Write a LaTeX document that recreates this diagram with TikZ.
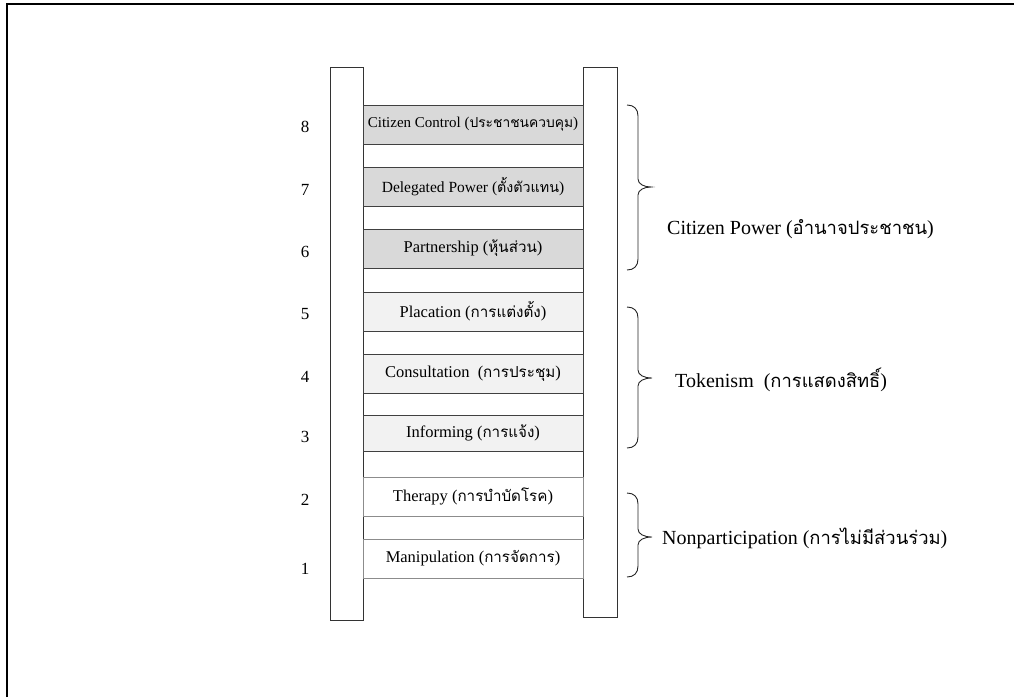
\documentclass[tikz,border=0pt]{standalone}
\usepackage{fontspec}
\setmainfont{Liberation Serif}
\newfontfamily\thai[Script=Thai,Scale=0.92]{Loma}
\begin{document}
\begin{tikzpicture}[x=1pt,y=-1pt,
  rail/.style={draw=black!80,line width=0.9pt,fill=white},
  rung/.style={draw=black!75,line width=0.9pt,minimum width=220pt,inner sep=0pt,
     font=\fontsize{16.5}{19}\selectfont},
  num/.style={font=\fontsize{17}{20}\selectfont,inner sep=0pt},
  grp/.style={font=\fontsize{20}{24}\selectfont,anchor=west,inner sep=0pt},
  brc/.style={draw=black!85,line width=0.9pt}]
\useasboundingbox (0,0) rectangle (1014,697);
% outer frame (only left and top visible)
\draw[line width=2pt] (7,697) -- (7,4) -- (1014,4);
% rails
\draw[rail] (330,67) rectangle (363,620);
\draw[rail] (583,67) rectangle (617,617);
% rungs
\node[rung,fill=black!15,minimum height=39pt,font=\fontsize{15}{18}\selectfont] (r8) at (473,124.5) {Citizen Control ({\thai ประชาชนควบคุม})};
\node[rung,fill=black!15,minimum height=39pt,font=\fontsize{15.5}{18}\selectfont] (r7) at (473,186.5) {Delegated Power ({\thai ตั้งตัวแทน})\hspace{10pt}};
\node[rung,fill=black!15,minimum height=39pt] (r6) at (473,248.5) {Partnership ({\thai หุ้นส่วน})};
\node[rung,fill=black!5,minimum height=39pt] (r5) at (473,311.5) {Placation ({\thai การแต่งตั้ง})};
\node[rung,fill=black!5,minimum height=39pt] (r4) at (473,373.5) {Consultation\ \ ({\thai การประชุม})};
\node[rung,fill=black!5,minimum height=36pt] (r3) at (473,433) {Informing ({\thai การแจ้ง})};
\node[rung,draw=black!45,fill=white,minimum height=39pt] (r2) at (473,496.5) {Therapy ({\thai การบำบัดโรค})};
\node[rung,draw=black!45,fill=white,minimum height=39pt] (r1) at (473,558.5) {Manipulation ({\thai การจัดการ})};
% numbers
\node[num] (n8) at (305,127) {8};
\node[num] (n7) at (305,190) {7};
\node[num] (n6) at (305,252) {6};
\node[num] (n5) at (305,314) {5};
\node[num] (n4) at (305,377) {4};
\node[num] (n3) at (305,437) {3};
\node[num] (n2) at (305,500) {2};
\node[num] (n1) at (305,569) {1};
% braces
\draw[brc] (627,105) .. controls (634,105) and (638,109) .. (638,116) -- (638,179)
  .. controls (638,184) and (644,187) .. (651,187)
  .. controls (644,187) and (638,190) .. (638,195) -- (638,259)
  .. controls (638,266) and (634,270) .. (627,270);
\draw[brc] (627,307) .. controls (634,307) and (638,311) .. (638,318) -- (638,370)
  .. controls (638,375) and (644,378) .. (652,378)
  .. controls (644,378) and (638,381) .. (638,386) -- (638,437)
  .. controls (638,444) and (634,448) .. (627,448);
\draw[brc] (627,493) .. controls (634,493) and (638,497) .. (638,504) -- (638,529)
  .. controls (638,534) and (644,537) .. (652,537)
  .. controls (644,537) and (638,540) .. (638,545) -- (638,566)
  .. controls (638,573) and (634,577) .. (627,577);
% group labels
\node[grp] (g1) at (667,229) {Citizen Power ({\thai อำนาจประชาชน})};
\node[grp] (g2) at (675,380) {Tokenism\ \ ({\thai การแสดงสิทธิ์})};
\node[grp] (g3) at (662,538) {Nonparticipation ({\thai การไม่มีส่วนร่วม})};
\end{tikzpicture}
\end{document}
